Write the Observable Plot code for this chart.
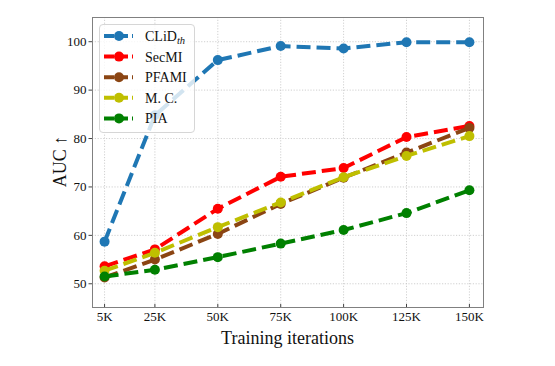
<!DOCTYPE html>
<html><head><meta charset="utf-8">
<script src="https://cdn.jsdelivr.net/npm/d3@7"></script>
<script src="https://cdn.jsdelivr.net/npm/@observablehq/plot@0.6"></script>
<style>
body{margin:0;background:#fff;}
#wrap{position:relative;width:555px;height:366px;font-family:"Liberation Serif","DejaVu Serif",serif;}
#wrap svg text{font-family:"Liberation Serif","DejaVu Serif",serif !important;}
#legend{position:absolute;left:99px;top:24px;width:96px;height:109px;background:rgba(255,255,255,0.8);border:1px solid #d6d6d6;border-radius:4px;box-sizing:border-box;}
</style></head>
<body><div id="wrap"></div>
<script>
const iters = [5, 25, 50, 75, 100, 125, 150];
const tickLabels = ["5K", "25K", "50K", "75K", "100K", "125K", "150K"];
const yTicks = [50, 60, 70, 80, 90, 100];
const seriesNames = ["CLiD", "SecMI", "PFAMI", "M. C.", "PIA"];
const seriesColors = ["#1f77b4", "#ff0000", "#8b4513", "#bfbf00", "#008000"];
const clid  = [58.7, 84.8, 96.2, 99.1, 98.6, 99.9, 99.9];
const secmi = [53.6, 57.1, 65.5, 72.1, 73.9, 80.3, 82.6];
const pfami = [51.3, 55.0, 60.3, 66.5, 71.9, 77.1, 82.2];
const mc    = [52.7, 56.4, 61.7, 66.8, 72.0, 76.4, 80.5];
const pia   = [51.5, 52.9, 55.5, 58.3, 61.1, 64.6, 69.3];
const allSeries = [clid, secmi, pfami, mc, pia];

const rows = [];
allSeries.forEach((vals, si) => vals.forEach((v, i) => rows.push({series: seriesNames[si], x: iters[i], y: v, k: si})));

const marks = [
  Plot.gridX(iters, {stroke: "#c4c4c4", strokeOpacity: 1, strokeWidth: 0.8, strokeDasharray: "1.2,1.6"}),
  Plot.gridY(yTicks, {stroke: "#c4c4c4", strokeOpacity: 1, strokeWidth: 0.8, strokeDasharray: "1.2,1.6"}),
  Plot.frame({stroke: "#808080", strokeWidth: 1})
];
allSeries.forEach((vals, si) => {
  const d = rows.filter(r => r.k === si);
  marks.push(Plot.line(d, {x: "x", y: "y", stroke: seriesColors[si], strokeWidth: 4, strokeDasharray: "14,6", strokeLinecap: "butt"}));
  marks.push(Plot.dot(d, {x: "x", y: "y", fill: seriesColors[si], r: 5}));
});
marks.push(
  Plot.axisX(iters, {tickSize: -3, tickPadding: 7, tickFormat: (d, i) => tickLabels[i], fontSize: 13, stroke: "#444", fill: "#111"}),
  Plot.axisY(yTicks, {tickSize: 3.5, tickPadding: 2.5, fontSize: 13, stroke: "#444", fill: "#111"})
);

const chart = Plot.plot({
  width: 555, height: 366,
  marginLeft: 92, marginRight: 72, marginTop: 17, marginBottom: 59,
  style: {fontFamily: "Liberation Serif, serif", background: "#fff", color: "#111"},
  x: {domain: [0.2, 155.6], label: null},
  y: {domain: [45.1, 105], label: null},
  marks
});
const wrap = document.getElementById("wrap");
wrap.appendChild(chart);

const svg = d3.select(chart);
svg.append("text").attr("x", 287.5).attr("y", 344).attr("text-anchor", "middle")
  .attr("font-size", 18).attr("fill", "#111").text("Training iterations");
svg.append("text").attr("transform", "translate(66,161.5) rotate(-90)").attr("text-anchor", "middle")
  .attr("font-size", 18).attr("fill", "#111").text("AUC ↑");

// legend
const leg = d3.select(wrap).append("div").attr("id", "legend");
const ls = leg.append("svg").attr("width", 96).attr("height", 109).style("position", "absolute").style("left", "-1px").style("top", "-1px");
seriesNames.forEach((n, i) => {
  const cy = 12 + i * 20.6;
  ls.append("line").attr("x1", 5).attr("x2", 34).attr("y1", cy).attr("y2", cy)
    .attr("stroke", seriesColors[i]).attr("stroke-width", 4).attr("stroke-dasharray", "10,4");
  ls.append("circle").attr("cx", 20).attr("cy", cy).attr("r", 5).attr("fill", seriesColors[i]);
  const t = ls.append("text").attr("x", 46).attr("y", cy + 5).attr("font-size", 14).attr("fill", "#111").text(n);
  if (i === 0) t.append("tspan").attr("font-style", "italic").attr("font-size", 10.5).attr("dy", 3).text("th");
});
</script></body></html>
